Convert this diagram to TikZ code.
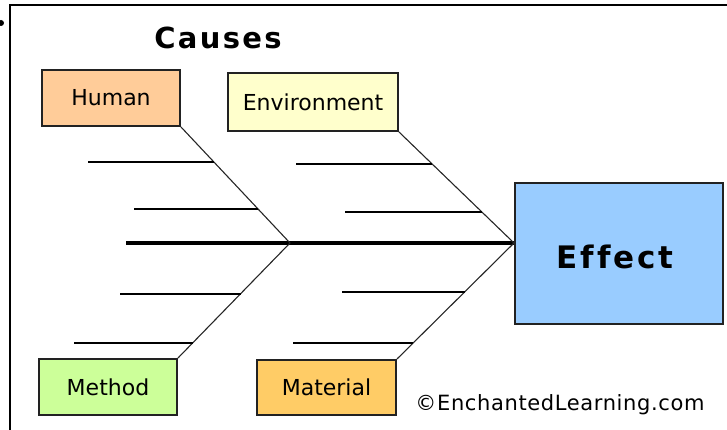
\documentclass[tikz,border=0pt]{standalone}
\usepackage{fontspec}
\setmainfont{DejaVu Sans}
\usetikzlibrary{calc}
\definecolor{humanc}{HTML}{FFCC99}
\definecolor{envc}{HTML}{FFFFCC}
\definecolor{methodc}{HTML}{CCFF99}
\definecolor{materialc}{HTML}{FFCC66}
\definecolor{effectc}{HTML}{99CCFF}
\definecolor{edgec}{HTML}{222222}
\tikzset{
  causebox/.style={draw=edgec, line width=2pt, inner sep=0pt, minimum width=138pt, minimum height=56pt,
    font=\fontsize{22}{26}\selectfont},
  rib/.style={line width=2pt, black},
  diag/.style={line width=1.1pt, black!85},
  spine/.style={line width=4pt, black},
  frame/.style={line width=2.2pt, black},
}
\begin{document}
\begin{tikzpicture}[x=1pt,y=-1pt]
\useasboundingbox (0,0) rectangle (727,430);
% frame
\coordinate (fl) at (10,430);
\coordinate (fc) at (10,5);
\coordinate (fr) at (727,5);
\draw[frame] (fl) -- (fc) -- (fr);
\fill[black] (1,23) circle (3);
% title
\node[font=\fontsize{29}{32}\selectfont\bfseries\addfontfeature{LetterSpace=8}] (causes) at (218,38) {Causes};
% boxes
\node[causebox, fill=humanc] (human) at (111,98) {Human};
\node[causebox, fill=envc, minimum width=170pt, minimum height=58pt] (env) at (313,102) {Environment};
\node[causebox, fill=methodc] (method) at (108,387) {Method};
\node[causebox, fill=materialc, minimum width=139pt, minimum height=55pt] (material) at (326.5,387.5) {Material};
\node[draw=edgec, line width=2pt, fill=effectc, minimum width=208pt, minimum height=141pt, inner sep=0pt] (effect) at (619,253.5) {};
\node[font=\fontsize{31}{34}\selectfont\bfseries\addfontfeature{LetterSpace=9,Ligatures=NoCommon}] (efftext) at (615,257) {Ef{}fect};
% spine
\coordinate (tail) at (126,243);
\coordinate (joint) at (290,243);
\coordinate (head) at (effect.west |- tail);
\draw[spine] (tail) -- (head);
% diagonals
\draw[diag] (human.south east) -- (joint);
\draw[diag] (method.north east) -- (joint);
\draw[diag] (env.south east) -- (head);
\draw[diag] (material.north east) -- (head);
% rib end points on diagonals
\coordinate (h1) at ($(human.south east)!0.30!(joint)$);
\coordinate (h2) at ($(human.south east)!0.71!(joint)$);
\coordinate (e1) at ($(env.south east)!0.286!(head)$);
\coordinate (e2) at ($(env.south east)!0.723!(head)$);
\coordinate (m1) at ($(method.north east)!0.56!(joint)$);
\coordinate (m2) at ($(method.north east)!0.13!(joint)$);
\coordinate (t1) at ($(material.north east)!0.58!(head)$);
\coordinate (t2) at ($(material.north east)!0.137!(head)$);
% rib start points
\coordinate (h1s) at (88,0);
\coordinate (h2s) at (134,0);
\coordinate (e1s) at (296,0);
\coordinate (e2s) at (345,0);
\coordinate (m1s) at (120,0);
\coordinate (m2s) at (74,0);
\coordinate (t1s) at (342,0);
\coordinate (t2s) at (293,0);
\foreach \r in {h1,h2,e1,e2,m1,m2,t1,t2}{
  \draw[rib] (\r s |- \r) -- (\r);
}
% copyright
\node[font=\fontsize{21}{24}\selectfont\addfontfeature{LetterSpace=3}] (copy) at (560,405) {©EnchantedLearning.com};
\end{tikzpicture}
\end{document}
